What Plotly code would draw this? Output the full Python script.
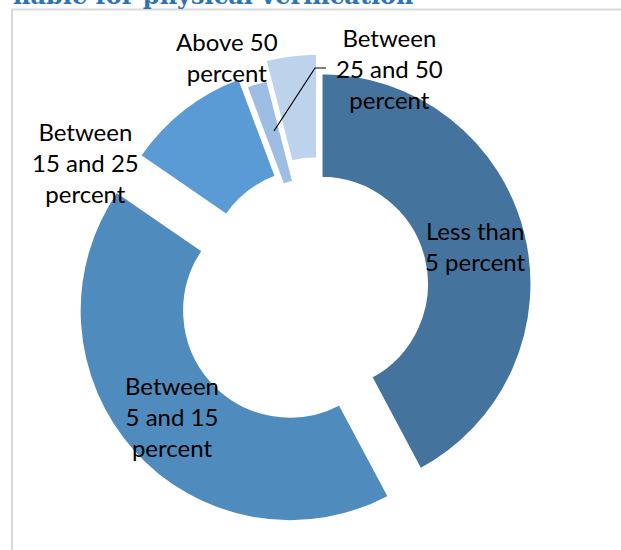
import plotly.graph_objects as go

# Data
categories = ["Less than 5 percent", "Between 5 and 15 percent", "Between 15 and 25 percent",
              "Between 25 and 50 percent", "Above 50 percent"]
shares = [42.2, 42.4, 9.7, 1.7, 4.0]
label_texts = ["Less than<br>5 percent", "Between<br>5 and 15<br>percent", "Between<br>15 and 25<br>percent",
               "Between<br>25 and 50<br>percent", "Above 50<br>percent"]
title_text = "nable for physical verification"

colors = ["#44749D", "#4F8BBD", "#5B9BD5", "#9DBDE2", "#BDD3EC"]
pulls = [0.005, 0.19, 0.052, 0.0, 0.095]

W, H = 621, 550
fig = go.Figure()
fig.add_trace(go.Pie(
    labels=categories, values=shares, hole=0.5, sort=False, direction="clockwise",
    rotation=0, pull=pulls, textinfo="none", hoverinfo="label+value",
    marker=dict(colors=colors, line=dict(color="white", width=3)),
    domain=dict(x=[69 / W, 571 / W], y=[15 / H, 517 / H]),
    showlegend=False,
))

# label positions in pixels (x, y from top)
label_pos = [(475, 246), (172, 416), (85, 162), (389, 68), (227, 57)]
for txt, (px, py) in zip(label_texts, label_pos):
    fig.add_annotation(x=px / W, y=1 - py / H, xref="paper", yref="paper", text=txt,
                       showarrow=False, xanchor="center", yanchor="middle",
                       font=dict(family="Lato", size=24, color="#000000"), align="center")

# leader line for "Between 25 and 50 percent"
fig.add_shape(type="path", xref="paper", yref="paper",
              path=f"M {326/W} {1-68/H} L {315/W} {1-68/H} L {274/W} {1-131/H}",
              line=dict(color="#000000", width=1.2))

# chart border
fig.add_shape(type="rect", xref="paper", yref="paper", x0=12 / W, x1=1.1, y0=-0.1, y1=1 - 9.5 / H,
              line=dict(color="#D9D9D9", width=2), layer="below")

# cropped title
fig.add_annotation(x=11 / W, y=1 - 12 / H, xref="paper", yref="paper", text=f"<b>{title_text}</b>",
                   showarrow=False, xanchor="left", yanchor="bottom",
                   font=dict(family="DejaVu Serif", size=24, color="#2E74B5"))

fig.update_layout(width=W, height=H, margin=dict(l=0, r=0, t=0, b=0),
                  paper_bgcolor="white", plot_bgcolor="white", showlegend=False)

fig.write_html("out.html")
